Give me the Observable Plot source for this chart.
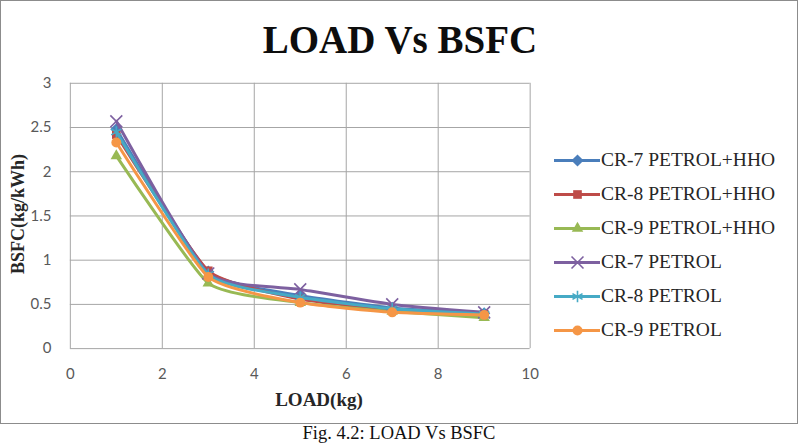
<!DOCTYPE html>
<html>
<head>
<meta charset="utf-8">
<script src="https://cdn.jsdelivr.net/npm/d3@7"></script>
<script src="https://cdn.jsdelivr.net/npm/@observablehq/plot@0.6"></script>
<style>
  html, body { margin: 0; padding: 0; background: #fff; }
  #wrap { position: relative; width: 798px; height: 444px; overflow: hidden; }
  #chart { position: absolute; left: 0; top: 0; width: 798px; height: 424px;
           box-sizing: border-box; border: 1.5px solid #8c8c8c; background: #fff; }
  #chart svg { position: absolute; left: 0; top: 0; }
  .title { position: absolute; left: 0; width: 798px; top: 16px; text-align: center;
           font-family: "Liberation Serif", "DejaVu Serif", serif; font-weight: bold; font-size: 39px; color: #0d0d0d; }
  .xlabel { position: absolute; left: 218px; width: 200px; top: 388px; text-align: center;
            font-family: "Liberation Serif", serif; font-weight: bold; font-size: 19px; color: #262626; }
  .ylabel { position: absolute; left: 17px; top: 213px; transform: translate(-50%, -50%) rotate(-90deg);
            white-space: nowrap; font-family: "Liberation Serif", serif; font-weight: bold; font-size: 18px; color: #262626; }
  .legend { position: absolute; left: 553px; top: 142px; }
  .legend .item { display: flex; align-items: center; height: 34px; }
  .legend .item svg { position: static !important; }
  .caption { position: absolute; left: 0; width: 798px; top: 423px; text-align: center;
             font-family: "Liberation Serif", serif; font-size: 18.5px; color: #111; line-height: 21px; }
</style>
</head>
<body>
<div id="wrap">
  <div id="chart">
    <div class="title">LOAD Vs BSFC</div>
    <div class="xlabel">LOAD(kg)</div>
    <div class="ylabel">BSFC(kg/kWh)</div>
    <div class="legend" id="legend"></div>
  </div>
  <div class="caption">Fig. 4.2: LOAD Vs BSFC</div>
</div>
<script>
// Engine load (kg) at which BSFC was measured
const loads = [1, 3, 5, 7, 9];

// Series names, in legend order
const seriesNames = [
  "CR-7 PETROL+HHO",
  "CR-8 PETROL+HHO",
  "CR-9 PETROL+HHO",
  "CR-7 PETROL",
  "CR-8 PETROL",
  "CR-9 PETROL"
];

// BSFC (kg/kWh) for each series at each load
const cr7PetrolHho = [2.48, 0.87, 0.60, 0.46, 0.40];
const cr8PetrolHho = [2.42, 0.88, 0.56, 0.44, 0.39];
const cr9PetrolHho = [2.18, 0.74, 0.52, 0.42, 0.35];
const cr7Petrol    = [2.57, 0.85, 0.67, 0.50, 0.41];
const cr8Petrol    = [2.45, 0.84, 0.58, 0.45, 0.39];
const cr9Petrol    = [2.33, 0.81, 0.52, 0.41, 0.38];

// Axis ticks
const xTicks = [0, 2, 4, 6, 8, 10];
const yTicks = [0, 0.5, 1, 1.5, 2, 2.5, 3];

const seriesValues = [cr7PetrolHho, cr8PetrolHho, cr9PetrolHho, cr7Petrol, cr8Petrol, cr9Petrol];

// Office-style palette and marker shapes per series
const seriesColors = ["#4a7ebb", "#be4b48", "#98b954", "#7d60a0", "#46aac5", "#f59646"];
const seriesSymbols = ["diamond2", "square2", "triangle2", "times", "asterisk", "circle"];
const strokedSymbol = s => s === "times" || s === "asterisk";

const rows = seriesNames.flatMap((name, i) =>
  loads.map((load, j) => ({ series: name, load, bsfc: seriesValues[i][j] }))
);

const dotOptions = (i, base) => {
  const sym = seriesSymbols[i];
  return strokedSymbol(sym)
    ? { ...base, symbol: sym, r: 5.5, stroke: seriesColors[i], strokeWidth: 1.6 }
    : { ...base, symbol: sym, r: sym === "circle" ? 5 : 5.5, fill: seriesColors[i], stroke: "none" };
};

// Smoothed lines with a loose cardinal spline, markers on top of each series
const lineMarks = seriesNames.flatMap((name, i) => {
  const data = rows.filter(d => d.series === name);
  return [
    Plot.line(data, { x: "load", y: "bsfc", stroke: seriesColors[i], strokeWidth: 3, curve: "cardinal", tension: 0.5 }),
    Plot.dot(data, dotOptions(i, { x: "load", y: "bsfc" }))
  ];
});

const chart = Plot.plot({
  width: 798,
  height: 424,
  marginLeft: 69,
  marginRight: 268,
  marginTop: 82,
  marginBottom: 76,
  style: { background: "transparent", fontFamily: "Lato, 'Liberation Sans', sans-serif", fontSize: "15px", color: "#595959" },
  x: { domain: [0, 10], ticks: xTicks, label: null },
  y: { domain: [0, 3], ticks: yTicks, label: null },
  marks: [
    Plot.gridX(xTicks, { stroke: "#a6a6a6", strokeOpacity: 1, strokeWidth: 1 }),
    Plot.gridY(yTicks, { stroke: "#a6a6a6", strokeOpacity: 1, strokeWidth: 1 }),
    Plot.axisX(xTicks, { tickSize: 0, tickPadding: 20, fontSize: 15, fill: "#595959" }),
    Plot.axisY(yTicks, { tickSize: 0, tickPadding: 19, fontSize: 15, fill: "#595959", tickFormat: d => String(d) }),
    ...lineMarks
  ]
});
document.getElementById("chart").appendChild(chart);

// Legend: short line sample with marker, then the series name
const legend = document.getElementById("legend");
seriesNames.forEach((name, i) => {
  const item = document.createElement("div");
  item.className = "item";
  const sample = Plot.plot({
    width: 46, height: 20, margin: 0,
    x: { domain: [0, 1], axis: null },
    y: { domain: [0, 1], axis: null },
    style: { background: "transparent" },
    marks: [
      Plot.line([{ a: 0, b: 0.5 }, { a: 1, b: 0.5 }], { x: "a", y: "b", stroke: seriesColors[i], strokeWidth: 3 }),
      Plot.dot([{ a: 0.5, b: 0.5 }], dotOptions(i, { x: "a", y: "b" }))
    ]
  });
  item.appendChild(sample);
  const label = document.createElement("span");
  label.textContent = name;
  label.style.fontFamily = "'Liberation Serif', 'DejaVu Serif', serif";
  label.style.fontSize = "19.5px";
  label.style.color = "#262626";
  label.style.marginLeft = "1px";
  item.appendChild(label);
  legend.appendChild(item);
});
</script>
</body>
</html>
